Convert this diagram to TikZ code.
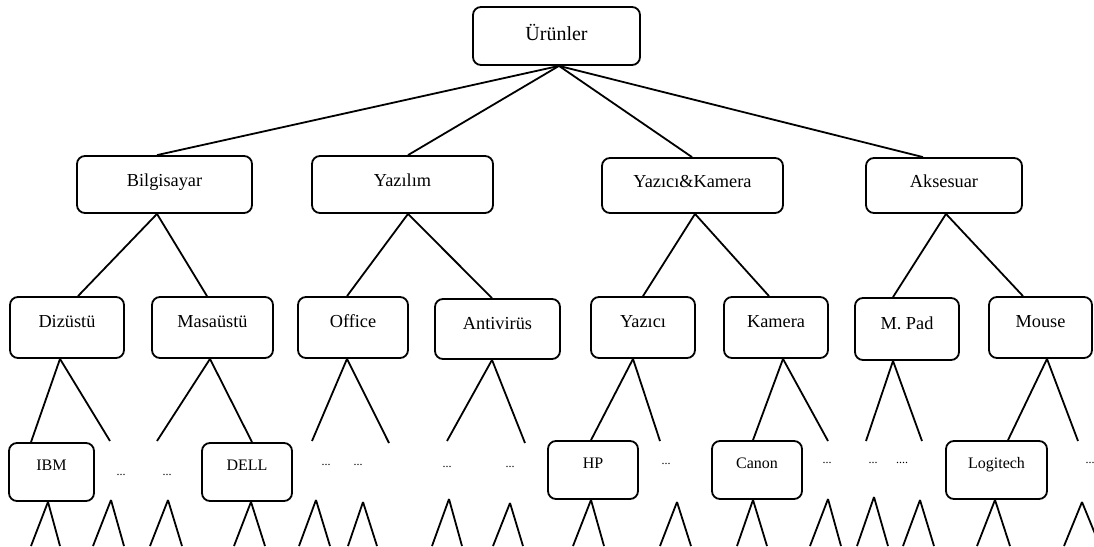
\documentclass[tikz,border=0pt]{standalone}
\usepackage{fontspec}
\setmainfont{Liberation Serif}
\begin{document}
\begin{tikzpicture}[x=1pt,y=-1pt,
  box/.style={draw, line width=1.8pt, rounded corners=8pt, inner sep=0pt},
  topfont/.style={font=\fontsize{20}{24}\selectfont, text height=14pt, text depth=6pt},
  catfont/.style={font=\fontsize{18.3}{22}\selectfont, text height=13pt, text depth=10pt},
  subfont/.style={font=\fontsize{18.3}{22}\selectfont, text height=12pt, text depth=12pt},
  brandfont/.style={font=\fontsize{16}{19}\selectfont, text height=11pt, text depth=14.4pt},
  more/.style={font=\fontsize{12}{14}\selectfont, inner sep=0pt},
  link/.style={line width=1.8pt}]
\useasboundingbox (0,0) rectangle (1094,546);

% root
\node[box, topfont, minimum width=167pt, minimum height=58pt] (root) at (556.5,36) {Ürünler};

% categories
\node[box, catfont, minimum width=175pt, minimum height=57pt] (bil) at (164.5,184.5) {Bilgisayar};
\node[box, catfont, minimum width=181pt, minimum height=57pt] (yaz) at (402.5,184.5) {Yazılım};
\node[box, catfont, minimum width=181pt, minimum height=55pt] (yk) at (692.5,185.5) {Yazıcı\&Kamera};
\node[box, catfont, minimum width=156pt, minimum height=55pt] (aks) at (944,185.5) {Aksesuar};

% sub-categories
\node[box, subfont, minimum width=114pt, minimum height=61pt] (diz) at (67,327.5) {Dizüstü};
\node[box, subfont, minimum width=121pt, minimum height=61pt] (mas) at (212.5,327.5) {Masaüstü};
\node[box, subfont, minimum width=110pt, minimum height=61pt] (off) at (353,327.5) {Office};
\node[box, subfont, minimum width=125pt, minimum height=60pt] (ant) at (497.5,329) {Antivirüs};
\node[box, subfont, minimum width=104pt, minimum height=61pt] (yzc) at (643,327.5) {Yazıcı};
\node[box, subfont, minimum width=104pt, minimum height=61pt] (kam) at (776,327.5) {Kamera};
\node[box, subfont, minimum width=104pt, minimum height=62pt] (mpad) at (907,329) {M. Pad};
\node[box, subfont, minimum width=103pt, minimum height=61pt] (mou) at (1040.5,327.5) {Mouse};

% brands
\node[box, brandfont, minimum width=85pt, minimum height=58pt] (ibm) at (51.5,472) {IBM};
\node[box, brandfont, minimum width=90pt, minimum height=58pt] (dell) at (247,472) {DELL};
\node[box, brandfont, minimum width=90pt, minimum height=58pt] (hp) at (593,470) {HP};
\node[box, brandfont, minimum width=90pt, minimum height=58pt] (canon) at (757,470) {Canon};
\node[box, brandfont, minimum width=101pt, minimum height=58pt] (logi) at (996.5,470) {Logitech};

% elided entries
\node[more] (m1) at (121,475) {...};
\node[more] (m2) at (167,475) {...};
\node[more] (m3) at (326,465) {...};
\node[more] (m4) at (358,465) {...};
\node[more] (m5) at (447,467) {...};
\node[more] (m6) at (510,467) {...};
\node[more] (m7) at (666,464) {...};
\node[more] (m8) at (827,463) {...};
\node[more] (m9) at (873,463) {...};
\node[more] (m10) at (902,463) {....};
\node[more] (m11) at (1090,463) {...};

% root -> categories
\draw[link] ([xshift=2.5pt]root.south) -- ([xshift=-7.5pt]bil.north);
\draw[link] ([xshift=2.5pt]root.south) -- ([xshift=5.5pt]yaz.north);
\draw[link] ([xshift=2.5pt]root.south) -- ([xshift=-0.5pt]yk.north);
\draw[link] ([xshift=2.5pt]root.south) -- ([xshift=-21pt]aks.north);

% categories -> sub-categories
\draw[link] ([xshift=-7.5pt]bil.south) -- ([xshift=11pt]diz.north);
\draw[link] ([xshift=-7.5pt]bil.south) -- ([xshift=-5.5pt]mas.north);
\draw[link] ([xshift=5.5pt]yaz.south) -- ([xshift=-6pt]off.north);
\draw[link] ([xshift=5.5pt]yaz.south) -- ([xshift=-5.5pt]ant.north);
\draw[link] ([xshift=2.5pt]yk.south) -- (yzc.north);
\draw[link] ([xshift=2.5pt]yk.south) -- ([xshift=-7pt]kam.north);
\draw[link] ([xshift=2pt]aks.south) -- ([xshift=-14pt]mpad.north);
\draw[link] ([xshift=2pt]aks.south) -- ([xshift=-17.5pt]mou.north);

% open branch ends under the sub-categories
\coordinate (o1) at (110,441);
\coordinate (o2) at (157,441);
\coordinate (o3) at (312,441);
\coordinate (o4) at (389,443);
\coordinate (o5) at (447,441);
\coordinate (o6) at (525,443);
\coordinate (o7) at (660,441);
\coordinate (o8) at (828,441);
\coordinate (o9) at (866,441);
\coordinate (o10) at (922,441);
\coordinate (o11) at (1078,441);

% sub-categories -> brands
\draw[link] ([xshift=-7pt]diz.south) -- ([xshift=-20.5pt]ibm.north);
\draw[link] ([xshift=-7pt]diz.south) -- (o1);
\draw[link] ([xshift=-2.5pt]mas.south) -- (o2);
\draw[link] ([xshift=-2.5pt]mas.south) -- ([xshift=5pt]dell.north);
\draw[link] ([xshift=-6pt]off.south) -- (o3);
\draw[link] ([xshift=-6pt]off.south) -- (o4);
\draw[link] ([xshift=-5.5pt]ant.south) -- (o5);
\draw[link] ([xshift=-5.5pt]ant.south) -- (o6);
\draw[link] ([xshift=-10pt]yzc.south) -- ([xshift=-2pt]hp.north);
\draw[link] ([xshift=-10pt]yzc.south) -- (o7);
\draw[link] ([xshift=7pt]kam.south) -- ([xshift=-4pt]canon.north);
\draw[link] ([xshift=7pt]kam.south) -- (o8);
\draw[link] ([xshift=-14pt]mpad.south) -- (o9);
\draw[link] ([xshift=-14pt]mpad.south) -- (o10);
\draw[link] ([xshift=6.5pt]mou.south) -- ([xshift=11.5pt]logi.north);
\draw[link] ([xshift=6.5pt]mou.south) -- (o11);

% further branches below the brands
\foreach \bx/\bl/\br [count=\i] in {-3.5/31/60, 4/234/265, -2/573/604, -4/737/767, -1.5/977/1010} {
  \coordinate (bl\i) at (\bl,546);
  \coordinate (br\i) at (\br,546);
}
\draw[link] ([xshift=-3.5pt]ibm.south) -- (bl1);
\draw[link] ([xshift=-3.5pt]ibm.south) -- (br1);
\draw[link] ([xshift=4pt]dell.south) -- (bl2);
\draw[link] ([xshift=4pt]dell.south) -- (br2);
\draw[link] ([xshift=-2pt]hp.south) -- (bl3);
\draw[link] ([xshift=-2pt]hp.south) -- (br3);
\draw[link] ([xshift=-4pt]canon.south) -- (bl4);
\draw[link] ([xshift=-4pt]canon.south) -- (br4);
\draw[link] ([xshift=-1.5pt]logi.south) -- (bl5);
\draw[link] ([xshift=-1.5pt]logi.south) -- (br5);

% branches below the elided entries
\foreach \ax/\ay/\fl/\fr [count=\i] in {111/500/93/124, 168/500/150/182, 316/500/299/330,
    363/502/348/377, 449/499/432/462, 510/503/493/523, 677/502/660/691,
    828/499/810/841, 874/497/857/888, 920/500/903/934, 1082/502/1064/1100} {
  \coordinate (ap\i) at (\ax,\ay);
  \coordinate (fl\i) at (\fl,546);
  \coordinate (fr\i) at (\fr,546);
  \draw[link] (ap\i) -- (fl\i);
  \draw[link] (ap\i) -- (fr\i);
}
\end{tikzpicture}
\end{document}
